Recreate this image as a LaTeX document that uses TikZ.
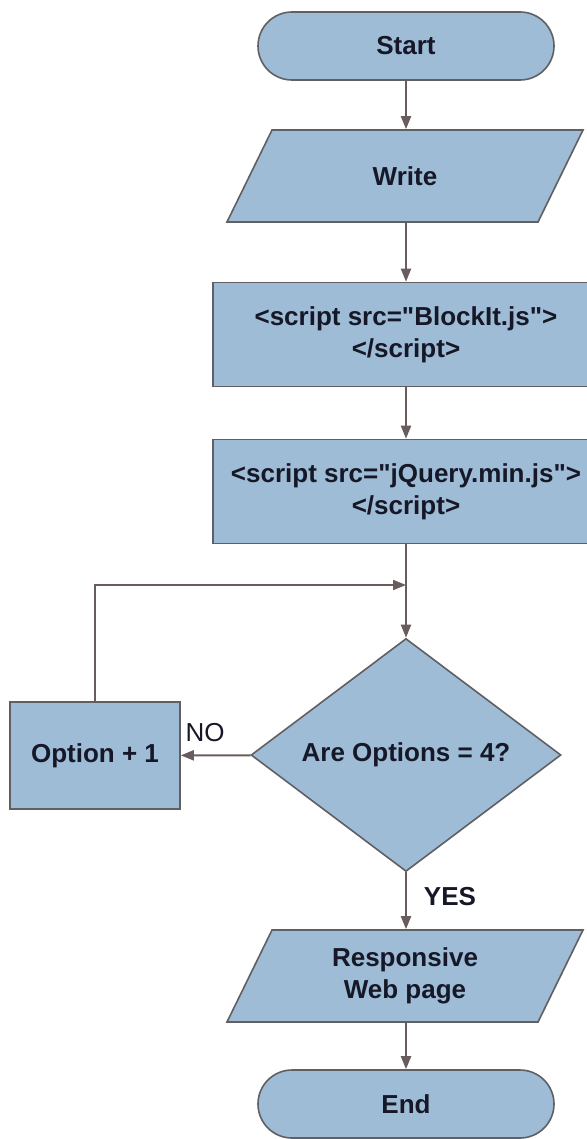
\documentclass[tikz,border=0pt]{standalone}
\usepackage{fontspec}
\setmainfont{Liberation Sans}
\usetikzlibrary{shapes.geometric,arrows.meta}
\definecolor{boxblue}{RGB}{158,188,214}
\definecolor{edgegray}{RGB}{95,95,100}
\definecolor{arrowgray}{RGB}{105,92,92}
\definecolor{inkblue}{RGB}{22,24,40}
\begin{document}
\begin{tikzpicture}[x=0.5pt,y=-0.5pt,
    box/.style={draw=edgegray, fill=boxblue, line width=0.8pt, align=center, inner sep=0pt,
      text=inkblue, font=\fontsize{13}{16}\selectfont\bfseries},
    term/.style={box, rectangle, rounded corners=17pt, minimum width=148pt, minimum height=34pt},
    iobox/.style={draw=edgegray, fill=boxblue, line width=0.8pt},
    io/.style={box, rectangle, draw=none, fill=none, minimum width=155pt, minimum height=46pt},
    proc/.style={box, rectangle, minimum width=193pt, minimum height=52pt},
    flow/.style={-{Triangle[length=6.5pt,width=5pt]}, arrowgray, line width=1pt},
    tag/.style={text=inkblue, font=\fontsize{13}{16}\selectfont}]
  \useasboundingbox[fill=white] (0,0) rectangle (587,1139);
  \coordinate (w) at (405,176);
  \coordinate (r) at (405,976);
  % parallelograms behind the io texts
  \foreach \c in {w,r}
    \filldraw[iobox, shift={(\c)}] (-178,46) -- (133,46) -- (178,-46) -- (-133,-46) -- cycle;
  \node[term] (start) at (406,46) {Start};
  \node[io] (write) at (w) {Write};
  \node[proc] (blockit) at (406,334.5) {<script src=\textquotedbl BlockIt.js\textquotedbl>\\</script>};
  \node[proc] (jquery) at (406,491.5) {<script src=\textquotedbl jQuery.min.js\textquotedbl>\\</script>};
  \coordinate (join) at (406,585);
  \node[box, diamond, minimum width=155pt, minimum height=115pt] (check) at (406,755) {Are Options = 4?};
  \node[box, rectangle, minimum width=85pt, minimum height=53.5pt] (option) at (95,755.5) {Option + 1};
  \node[io] (page) at (r) {Responsive\\Web page};
  \node[term] (end) at (406,1104) {End};
  % arrows
  \draw[flow] (start) -- (start |- write.north);
  \draw[flow] (write.south -| blockit) -- (blockit);
  \draw[flow] (blockit) -- (jquery);
  \draw[flow] (jquery) -- (check);
  \draw[flow] (check) -- (option);
  \draw[flow] (option.north) |- (join);
  \draw[flow] (check) -- (check |- page.north);
  \draw[flow] (page.south -| end) -- (end);
  \node[tag] (no) at (205,733) {NO};
  \node[tag, font=\fontsize{13}{16}\selectfont\bfseries] (yes) at (450,897) {YES};
\end{tikzpicture}
\end{document}
